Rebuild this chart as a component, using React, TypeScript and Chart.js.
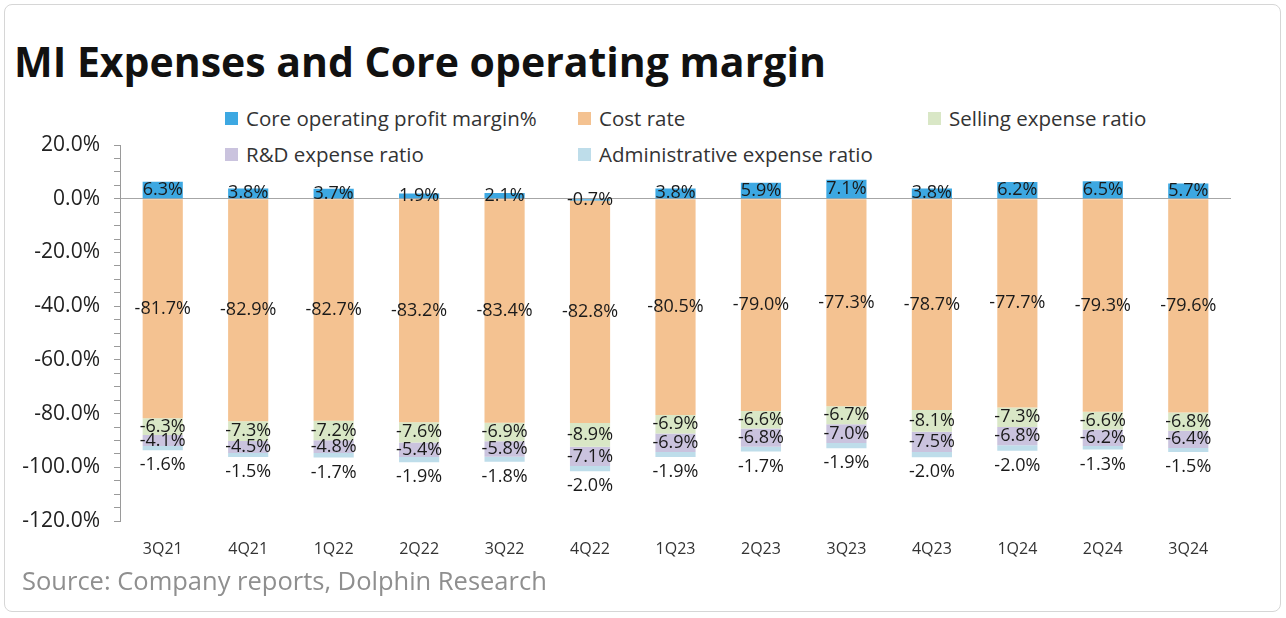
import React, { useEffect, useRef } from "react";
import { Chart, registerables } from "chart.js";

Chart.register(...registerables);

const categories = ["3Q21", "4Q21", "1Q22", "2Q22", "3Q22", "4Q22", "1Q23", "2Q23", "3Q23", "4Q23", "1Q24", "2Q24", "3Q24"];
const coreMargin = [6.3, 3.8, 3.7, 1.9, 2.1, -0.7, 3.8, 5.9, 7.1, 3.8, 6.2, 6.5, 5.7];
const costRate = [-81.7, -82.9, -82.7, -83.2, -83.4, -82.8, -80.5, -79.0, -77.3, -78.7, -77.7, -79.3, -79.6];
const sellingRatio = [-6.3, -7.3, -7.2, -7.6, -6.9, -8.9, -6.9, -6.6, -6.7, -8.1, -7.3, -6.6, -6.8];
const rdRatio = [-4.1, -4.5, -4.8, -5.4, -5.8, -7.1, -6.9, -6.8, -7.0, -7.5, -6.8, -6.2, -6.4];
const adminRatio = [-1.6, -1.5, -1.7, -1.9, -1.8, -2.0, -1.9, -1.7, -1.9, -2.0, -2.0, -1.3, -1.5];

const seriesNames = [
  "Core operating profit margin%",
  "Cost rate",
  "Selling expense ratio",
  "R&D expense ratio",
  "Administrative expense ratio",
];
const seriesColors = ["#3DA8E2", "#F4C291", "#D9E7C6", "#CAC3DE", "#BEDDEA"];
const seriesData = [coreMargin, costRate, sellingRatio, rdRatio, adminRatio];

const FONT = '"Open Sans", "Noto Sans", sans-serif';

const legendItems = [
  { idx: 0, x: 225, y: 118 },
  { idx: 1, x: 578, y: 118 },
  { idx: 2, x: 928, y: 118 },
  { idx: 3, x: 225, y: 154 },
  { idx: 4, x: 578, y: 154 },
];

export default function App() {
  const ref = useRef<HTMLCanvasElement>(null);

  useEffect(() => {
    if (!ref.current) return;
    const labelPlugin = {
      id: "barLabels",
      afterDatasetsDraw(chart: any) {
        const ctx = chart.ctx;
        ctx.save();
        ctx.font = `18px ${FONT}`;
        ctx.fillStyle = "#1a1a1a";
        ctx.textAlign = "center";
        ctx.textBaseline = "middle";
        chart.data.datasets.forEach((ds: any, di: number) => {
          const meta = chart.getDatasetMeta(di);
          meta.data.forEach((bar: any, i: number) => {
            const v = ds.data[i] as number;
            const p = bar.getProps(["x", "y", "base"], true);
            let ty = (p.y + p.base) / 2;
            if (di === 4) ty = Math.max(p.y, p.base) + 15;
            ctx.fillText(v.toFixed(1) + "%", p.x, ty);
          });
        });
        ctx.restore();
      },
    };

    const chart = new Chart(ref.current, {
      type: "bar",
      data: {
        labels: categories,
        datasets: seriesData.map((d, i) => ({
          label: seriesNames[i],
          data: d,
          backgroundColor: seriesColors[i],
          borderWidth: 0,
          categoryPercentage: 1,
          barPercentage: 0.47,
          stack: "s",
        })),
      },
      options: {
        responsive: false,
        devicePixelRatio: 1,
        animation: false,
        layout: { padding: { left: 20, right: 55, top: 145, bottom: 47 } },
        plugins: {
          legend: { display: false },
          tooltip: { enabled: false },
          title: { display: false },
        },
        scales: {
          x: {
            stacked: true,
            grid: { display: false, drawTicks: false },
            border: { display: false },
            ticks: { font: { family: FONT, size: 16 }, color: "#333", padding: 19 },
            afterFit: (s: any) => {
              s.height = 50;
            },
          },
          y: {
            stacked: true,
            min: -120,
            max: 20,
            ticks: {
              stepSize: 5,
              autoSkip: false,
              font: { family: FONT, size: 21 },
              color: "#222",
              padding: 14,
              callback: (v: any) => (Math.round(v) % 20 === 0 ? Number(v).toFixed(1) + "%" : ""),
            },
            grid: {
              drawOnChartArea: true,
              color: (c: any) => (c.tick && c.tick.value === 0 ? "#a6a6a6" : "rgba(0,0,0,0)"),
              tickColor: "#9a9a9a",
              tickLength: 6,
              lineWidth: 1,
            },
            border: { display: true, color: "#9a9a9a", width: 1 },
            afterFit: (s: any) => {
              s.width = 100;
            },
          },
        },
      },
      plugins: [labelPlugin],
    });
    return () => chart.destroy();
  }, []);

  return (
    <div>
      <div
        style={{
          position: "absolute",
          left: 4,
          top: 4,
          width: 1275,
          height: 606,
          border: "1px solid #d6d6d6",
          borderRadius: 8,
          background: "#fff",
        }}
      />
      <div
        style={{
          position: "absolute",
          left: 14,
          top: 41,
          fontFamily: FONT,
          fontWeight: 700,
          fontSize: 41,
          lineHeight: 1,
          color: "#111",
          whiteSpace: "nowrap",
        }}
      >
        MI Expenses and Core operating margin
      </div>
      {legendItems.map((it) => (
        <div
          key={it.idx}
          style={{
            position: "absolute",
            left: it.x,
            top: it.y - 12,
            height: 24,
            display: "flex",
            alignItems: "center",
            fontFamily: FONT,
            fontSize: 20.5,
            color: "#333",
            whiteSpace: "nowrap",
          }}
        >
          <span
            style={{
              display: "inline-block",
              width: 13,
              height: 13,
              background: seriesColors[it.idx],
              marginRight: 8,
            }}
          />
          {seriesNames[it.idx]}
        </div>
      ))}
      <canvas
        ref={ref}
        width={1286}
        height={618}
        style={{ position: "absolute", left: 0, top: 0, width: 1286, height: 618 }}
      />
      <div
        style={{
          position: "absolute",
          left: 22,
          top: 568,
          height: 24,
          display: "flex",
          alignItems: "center",
          fontFamily: FONT,
          fontSize: 25.5,
          color: "#8f8f8f",
          whiteSpace: "nowrap",
        }}
      >
        Source: Company reports, Dolphin Research
      </div>
    </div>
  );
}
